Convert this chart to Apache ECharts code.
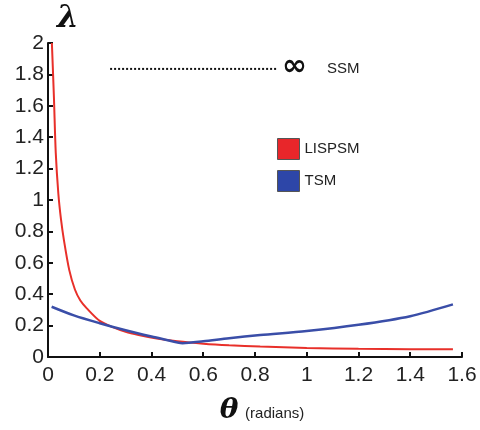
<!DOCTYPE html>
<html>
<head>
<meta charset="utf-8">
<script src="https://cdn.jsdelivr.net/npm/echarts@6/dist/echarts.min.js"></script>
<style>
  html, body { margin: 0; padding: 0; background: #fff; }
  #chart { width: 480px; height: 430px; }
</style>
</head>
<body>
<div id="chart"></div>
<script>
// theta (radians) sampled along each curve
var lispsmTheta = [0.015, 0.023, 0.03, 0.04, 0.05, 0.062, 0.082, 0.104, 0.125, 0.15, 0.2, 0.25, 0.3, 0.35, 0.42, 0.5, 0.6, 0.7, 0.82, 1.0, 1.2, 1.4, 1.565];
var lispsmLambda = [2.0, 1.65, 1.3, 1.04, 0.88, 0.74, 0.555, 0.43, 0.36, 0.31, 0.23, 0.19, 0.16, 0.14, 0.118, 0.1, 0.085, 0.075, 0.067, 0.058, 0.052, 0.05, 0.05];

var tsmTheta = [0.014, 0.1, 0.2, 0.3, 0.4, 0.45, 0.52, 0.6, 0.7, 0.82, 1.0, 1.2, 1.4, 1.565];
var tsmLambda = [0.32, 0.265, 0.215, 0.17, 0.13, 0.112, 0.088, 0.1, 0.12, 0.14, 0.165, 0.205, 0.26, 0.335];

// SSM goes to infinity, drawn as a dotted marker line
var ssmTheta = [0.24, 0.885];
var ssmLambda = [1.835, 1.835];

var xTicks = [0, 0.2, 0.4, 0.6, 0.8, 1, 1.2, 1.4, 1.6];
var yTicks = [0, 0.2, 0.4, 0.6, 0.8, 1, 1.2, 1.4, 1.6, 1.8, 2];

function pairs(xs, ys) {
  return xs.map(function (x, i) { return [x, ys[i]]; });
}

var chart = echarts.init(document.getElementById('chart'));

var axisCommon = {
  type: 'value',
  axisLine: { show: true, lineStyle: { color: '#111', width: 2 } },
  axisTick: { show: true, inside: true, length: 5, lineStyle: { color: '#111', width: 2 } },
  splitLine: { show: false },
  axisLabel: { color: '#222', fontFamily: 'Liberation Sans', fontSize: 21 }
};

var option = {
  animation: false,
  grid: { left: 48, right: 18, top: 43, bottom: 59 },
  legend: {
    orient: 'vertical',
    left: 272,
    top: 133,
    icon: 'rect',
    itemWidth: 22,
    itemHeight: 21,
    itemGap: 10,
    textStyle: { fontFamily: 'Liberation Sans', fontSize: 15, color: '#222' },
    data: [
      { name: 'LISPSM', itemStyle: { color: '#e8262a', borderColor: '#555', borderWidth: 1 } },
      { name: 'TSM', itemStyle: { color: '#2d46a8', borderColor: '#555', borderWidth: 1 } }
    ]
  },
  xAxis: Object.assign({}, axisCommon, {
    min: xTicks[0],
    max: xTicks[xTicks.length - 1],
    interval: 0.2,
    axisLabel: Object.assign({}, axisCommon.axisLabel, { margin: 8 }),
    name: '{t|θ}  {r|(radians)}',
    nameLocation: 'middle',
    nameGap: 40,
    nameTextStyle: {
      padding: [0, 0, 0, 14],
      rich: {
        t: { fontFamily: 'DejaVu Serif', fontStyle: 'italic', fontWeight: 'bold', fontSize: 28, color: '#111' },
        r: { fontFamily: 'Liberation Sans', fontSize: 15, color: '#222', padding: [6, 0, 0, 0] }
      }
    }
  }),
  yAxis: Object.assign({}, axisCommon, {
    min: yTicks[0],
    max: yTicks[yTicks.length - 1],
    interval: 0.2,
    axisLabel: Object.assign({}, axisCommon.axisLabel, { margin: 4 }),
    name: 'λ',
    nameLocation: 'end',
    nameGap: 9,
    nameTextStyle: {
      fontFamily: 'DejaVu Serif', fontStyle: 'italic', fontWeight: 'bold', fontSize: 31,
      color: '#111', align: 'left', padding: [0, 0, 0, 9]
    }
  }),
  series: [
    {
      name: 'LISPSM',
      type: 'line',
      data: pairs(lispsmTheta, lispsmLambda),
      smooth: 0.3,
      showSymbol: false,
      lineStyle: { color: '#e8302a', width: 2 },
      itemStyle: { color: '#e8262a' }
    },
    {
      name: 'TSM',
      type: 'line',
      data: pairs(tsmTheta, tsmLambda),
      smooth: 0.3,
      showSymbol: false,
      lineStyle: { color: '#3a4ea8', width: 2.5 },
      itemStyle: { color: '#2d46a8' }
    },
    {
      name: 'SSM',
      type: 'line',
      data: pairs(ssmTheta, ssmLambda),
      showSymbol: false,
      lineStyle: { color: '#111', width: 2, type: [2, 2] },
      endLabel: {
        show: true,
        distance: 5,
        formatter: '{i|∞}{s|SSM}',
        rich: {
          i: { fontFamily: 'DejaVu Sans', fontWeight: 'bold', fontSize: 30, color: '#111', padding: [0, 20, 4, 0] },
          s: { fontFamily: 'Liberation Sans', fontSize: 15, color: '#222' }
        }
      }
    }
  ]
};

chart.setOption(option);
</script>
</body>
</html>
